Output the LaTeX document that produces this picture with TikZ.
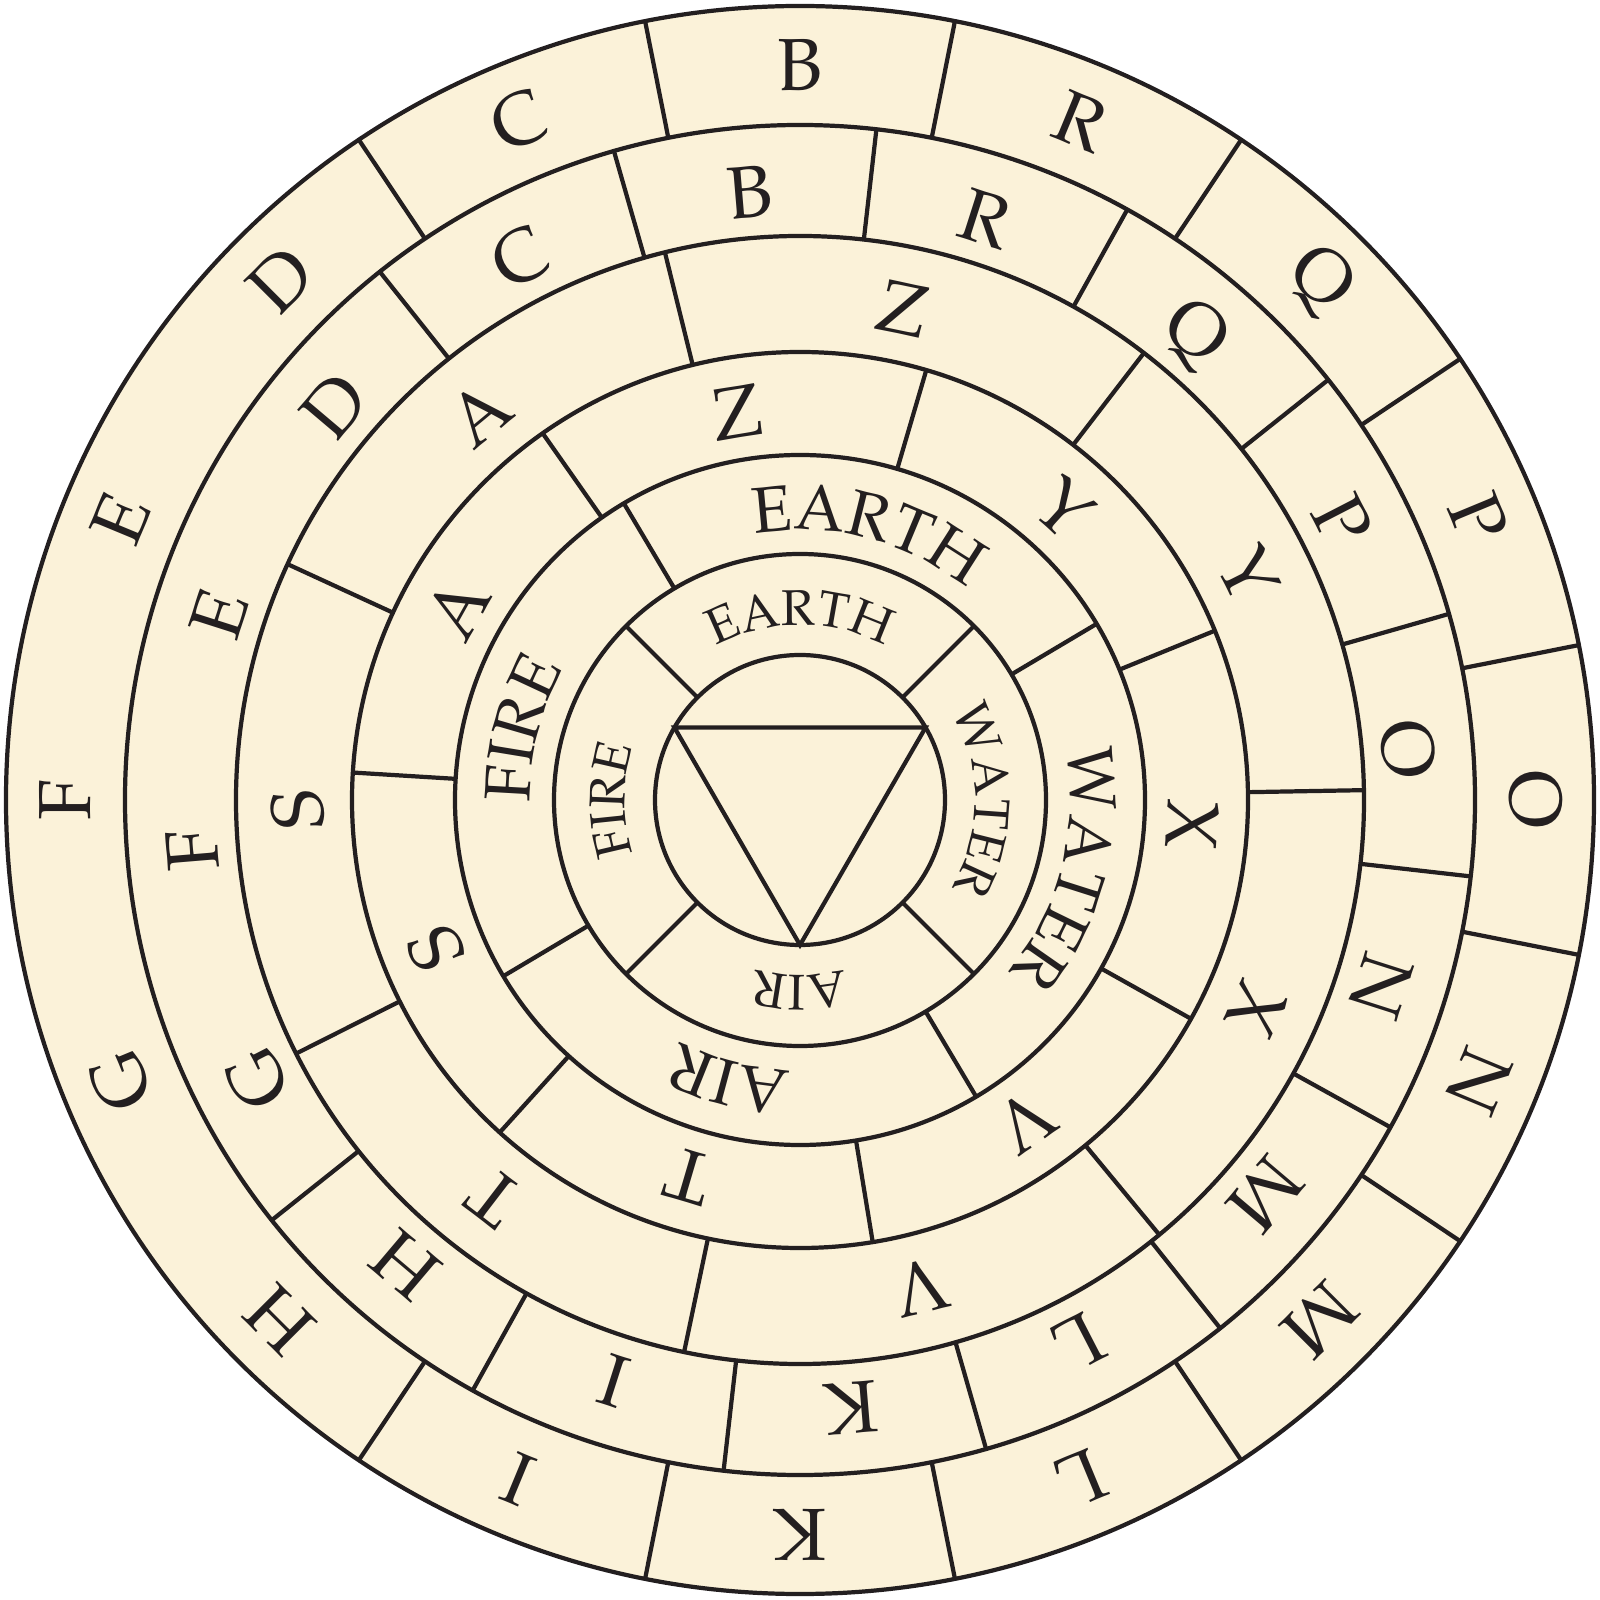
\documentclass[tikz,border=0pt]{standalone}
\usepackage[T1]{fontenc}
\usepackage{mathpazo}
\usetikzlibrary{decorations.text}
\definecolor{cream}{RGB}{251,242,217}
\definecolor{ink}{RGB}{35,31,32}
\newcommand{\ringword}[4]{%
  \path[decorate,decoration={text along path,text={|#3|#4},text align=center}]
    ({#1+45}:#2) arc[start angle={#1+45}, end angle={#1-45}, radius=#2];}
\newcommand{\bigelem}{\color{ink}\fontsize{18.4}{20}\selectfont}
\newcommand{\smallelem}{\color{ink}\fontsize{14.3}{16}\selectfont}
\begin{document}
\begin{tikzpicture}[line width=1.2pt,
  ringline/.style={draw=ink, line width=1.2pt},
  letterbox/.style={inner sep=0pt, text=ink, font=\fontsize{21}{21}\selectfont}]
\useasboundingbox (-80mm,-80mm) rectangle (80mm,80mm);
\fill[cream] (0,0) circle[radius=79.4mm];
% ring circles
\foreach \r in {79.4,67.5,56.4,44.8,34.5,24.6,14.5}
  \draw[ringline] (0,0) circle[radius=\r mm];
% ring 1 dividers
\foreach \k in {0,...,11}{
  \pgfmathsetmacro\ang{123.75-22.5*\k}
  \draw[ringline] (\ang:67.5mm) -- (\ang:79.4mm);}
% ring 2 dividers
\foreach \k in {0,...,12}{
  \pgfmathsetmacro\ang{128.5-22.5*\k}
  \draw[ringline] (\ang:56.4mm) -- (\ang:67.5mm);}
% ring 3 dividers
\foreach \k in {0,...,6}{
  \pgfmathsetmacro\ang{1.0+51.4286*\k}
  \draw[ringline] (\ang:44.8mm) -- (\ang:56.4mm);}
% ring 4 dividers
\foreach \k in {0,...,6}{
  \pgfmathsetmacro\ang{22.2+51.4286*\k}
  \draw[ringline] (\ang:34.5mm) -- (\ang:44.8mm);}
% ring 5 dividers
\foreach \k in {0,...,3}{
  \pgfmathsetmacro\ang{30.7+90*\k}
  \draw[ringline] (\ang:24.6mm) -- (\ang:34.5mm);}
% ring 6 dividers
\foreach \k in {0,...,3}{
  \pgfmathsetmacro\ang{45+90*\k}
  \draw[ringline] (\ang:14.5mm) -- (\ang:24.6mm);}
% triangle
\draw[ringline] (150:14.5mm) -- (30:14.5mm) -- (-90:14.5mm) -- cycle;
% ring 1 letters
\foreach \ch [count=\i from 0] in {B,R,Q,P,O,N,M,L,K,I,H,G,F,E,D,C}{
  \pgfmathsetmacro\ang{90-22.5*\i}
  \node[letterbox, rotate=\ang-90] (outer\i) at (\ang:73.5mm) {\ch};}
% ring 2 letters
\foreach \ch [count=\i from 0] in {B,R,Q,P,O,N,M,L,K,I,H,G,F,E,D,C}{
  \pgfmathsetmacro\ang{94.75-22.5*\i}
  \node[letterbox, rotate=\ang-90] (second\i) at (\ang:61.0mm) {\ch};}
% ring 3 letters
\foreach \ch [count=\i from 0] in {Z,Y,X,V,T,S,A}{
  \pgfmathsetmacro\ang{78.2-51.4286*\i}
  \node[letterbox, rotate=\ang-90] (third\i) at (\ang:50.2mm) {\ch};}
% ring 4 letters
\foreach \ch [count=\i from 0] in {Z,Y,X,V,T,S,A}{
  \pgfmathsetmacro\ang{99.3-51.4286*\i}
  \node[letterbox, rotate=\ang-90] (fourth\i) at (\ang:39.3mm) {\ch};}
% ring 5 words
\ringword{75.7}{27.0mm}{\bigelem}{EARTH}
\ringword{-14.3}{27.0mm}{\bigelem}{WATER}
\ringword{-104.3}{27.0mm}{\bigelem}{AIR}
\ringword{165.7}{27.0mm}{\bigelem}{FIRE}
% ring 6 words
\ringword{90}{17.5mm}{\smallelem}{EARTH}
\ringword{0}{17.5mm}{\smallelem}{WATER}
\ringword{-90}{17.5mm}{\smallelem}{AIR}
\ringword{180}{17.5mm}{\smallelem}{FIRE}
\end{tikzpicture}
\end{document}
